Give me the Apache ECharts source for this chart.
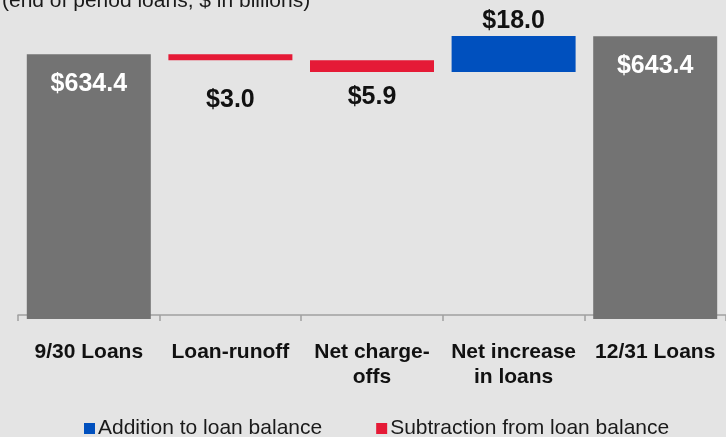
<!DOCTYPE html>
<html>
<head>
<meta charset="utf-8">
<script src="https://cdn.jsdelivr.net/npm/echarts@6/dist/echarts.min.js"></script>
<style>
html,body{margin:0;padding:0;background:#e4e4e4;}
#chart{width:726px;height:437px;}
</style>
</head>
<body>
<div id="chart"></div>
<script>
// DATA
const categories=['9/30 Loans','Loan-runoff','Net charge-\noffs','Net increase\nin loans','12/31 Loans'];
const startLoans=634.4;
const endLoans=643.4;
const changes=[null,-3.0,-5.9,18.0,null];   // middle steps of the bridge
const valueLabels=['$634.4','$3.0','$5.9','$18.0','$643.4'];

// build waterfall stacks
const base=[],totals=[],adds=[],subs=[];
let run=startLoans;
categories.forEach((c,i)=>{
  if(i===0){base.push(0);totals.push(startLoans);adds.push('-');subs.push('-');return;}
  if(i===categories.length-1){base.push(0);totals.push(endLoans);adds.push('-');subs.push('-');return;}
  const d=changes[i];
  totals.push('-');
  if(d>=0){base.push(run);adds.push(d);subs.push('-');}
  else{base.push(run+d);subs.push(-d);adds.push('-');}
  run+=d;
});

const font='"Liberation Sans", Arial, sans-serif';
const chart=echarts.init(document.getElementById('chart'));

chart.setOption({
  backgroundColor:'#e4e4e4',
  animation:false,
  graphic:[{
    type:'text',left:2,top:-9,
    style:{text:'(end of period loans, $ in billions)',font:'21px '+font,fill:'#1a1a1a'}
  }],
  legend:{
    data:['Addition to loan balance','Subtraction from loan balance'],
    bottom:-7,left:79,
    itemWidth:11,itemHeight:11,itemGap:54,icon:'rect',
    textStyle:{fontFamily:font,fontSize:21,color:'#1a1a1a',padding:[0,0,0,-2]}
  },
  grid:{left:18,right:-2,top:23,bottom:118},
  xAxis:{
    type:'category',data:categories,offset:-4,
    axisLine:{lineStyle:{color:'#a0a0a0',width:1.5}},
    axisTick:{show:true,length:6,lineStyle:{color:'#a0a0a0',width:1.5}},
    axisLabel:{fontFamily:font,fontSize:21,fontWeight:'bold',color:'#111',margin:25,lineHeight:25,interval:0}
  },
  yAxis:{type:'value',min:502,max:650,show:false,splitLine:{show:false}},
  series:[
    {type:'bar',stack:'w',data:base,barWidth:124,itemStyle:{color:'transparent'},silent:true},
    {type:'bar',stack:'w',name:'Totals',data:totals,itemStyle:{color:'#737373'},
      label:{show:true,position:'insideTop',distance:17,color:'#fff',fontFamily:font,fontSize:25,fontWeight:'bold',
        formatter:p=>valueLabels[p.dataIndex]}},
    {type:'bar',stack:'w',name:'Addition to loan balance',data:adds,itemStyle:{color:'#0050be'},
      label:{show:true,position:'top',distance:2,color:'#111',fontFamily:font,fontSize:25,fontWeight:'bold',
        formatter:p=>valueLabels[p.dataIndex]}},
    {type:'bar',stack:'w',name:'Subtraction from loan balance',
      data:subs.map((v,i)=>v==='-'?v:{value:v,label:{distance:i===1?27:13}}),
      itemStyle:{color:'#e51a36'},
      label:{show:true,position:'bottom',color:'#111',fontFamily:font,fontSize:25,fontWeight:'bold',
        formatter:p=>valueLabels[p.dataIndex]}}
  ]
});
</script>
</body>
</html>
